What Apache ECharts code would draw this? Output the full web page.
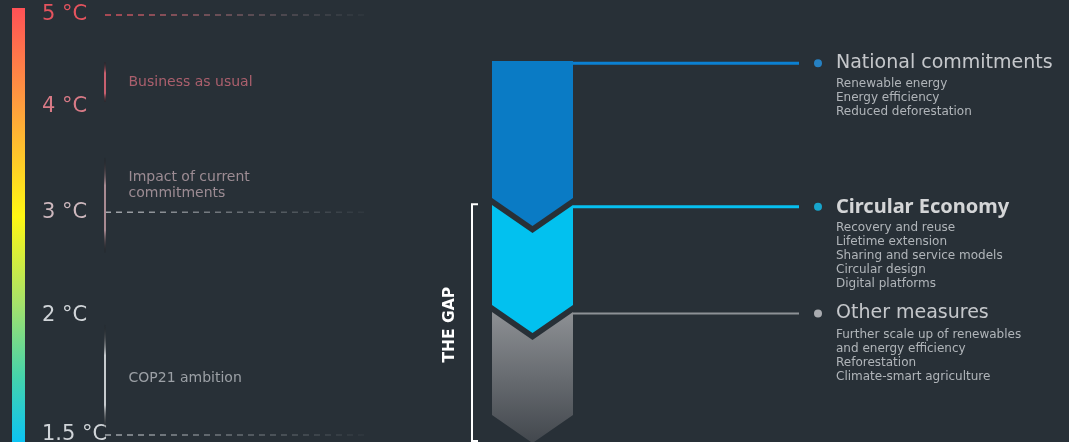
<!DOCTYPE html>
<html>
<head>
<meta charset="utf-8">
<title>The Gap</title>
<script src="https://cdn.jsdelivr.net/npm/echarts@6.0.0/dist/echarts.min.js"></script>
<style>
  html, body { margin: 0; padding: 0; background: #283037; }
  #chart { width: 1069px; height: 442px; }
</style>
</head>
<body>
<div id="chart"></div>
<script>
// vertical scale: 0 = top of the chart, 100 = bottom (the drawn temperature scale is not linear)
const tempLabels = ['5 °C', '4 °C', '3 °C', '2 °C', '1.5 °C'];
const tempLevels = [3.4, 24.2, 48.0, 71.3, 98.4];
const guideIndex = [0, 2, 4];   // temperatures with a dashed guide line
const scaleRange = [1.8, 100];

// ranges on the left
const bandNames = ['Business as usual', 'Impact of current\ncommitments', 'COP21 ambition'];
const bandFrom = [14.0, 35.7, 73.5];
const bandTo = [23.1, 57.2, 97.3];
const bandLabelLevel = [18.6, 41.9, 85.5];

// measures (chevrons)
const measureNames = ['National commitments', 'Circular Economy', 'Other measures'];
const measureTop = [13.8, 46.4, 70.6];
const measureBottom = [44.8, 69.0, 93.9];
const measureLevel = [14.3, 46.8, 70.9];
const measureItems = [
  ['Renewable energy', 'Energy efficiency', 'Reduced deforestation'],
  ['Recovery and reuse', 'Lifetime extension', 'Sharing and service models', 'Circular design', 'Digital platforms'],
  ['Further scale up of renewables', 'and energy efficiency', 'Reforestation', 'Climate-smart agriculture']
];

const gapRange = [46.2, 99.8];
const gapLabel = 'THE GAP';

const FONT = '"DejaVu Sans", "Noto Sans", sans-serif';
const FONT_BOLD = '"Noto Sans", "DejaVu Sans", sans-serif';
var myChart = echarts.init(document.getElementById('chart'));

// grids: 0 scale bar, 1 annotations, 2 chevrons, 3 connectors, 4 dots + text, 5 gap bracket
var gridLefts = [12, 105, 492, 573, 818, 472];
var gridWidths = [13, 260, 81, 226, 200, 6];

var grids = [], xAxes = [], yAxes = [];
gridLefts.forEach(function (l, i) {
  grids.push({ left: l, width: gridWidths[i], top: 0, bottom: 0, outerBoundsMode: 'none', containLabel: false });
  xAxes.push({ type: 'value', gridIndex: i, min: 0, max: 1, show: false });
  yAxes.push({ type: 'value', gridIndex: i, min: 0, max: 100, inverse: true, show: false });
});

// temperature labels on the scale bar axis
var labelColors = ['#e4535e', '#d87a86', '#cdb7bd', '#d0d4d8', '#d0d4d8'];
var tempRich = {};
labelColors.forEach(function (c, i) {
  tempRich['t' + i] = { color: c, fontSize: 21, fontFamily: FONT };
});
yAxes[0] = {
  type: 'value', gridIndex: 0, min: 0, max: 100, inverse: true, position: 'right',
  axisLine: { show: false }, axisTick: { show: false }, splitLine: { show: false },
  axisLabel: {
    show: true, margin: 17, align: 'left',
    customValues: tempLevels,
    formatter: function (v) {
      var k = 0;
      tempLevels.forEach(function (t, i) { if (Math.abs(t - v) < 0.01) k = i; });
      return '{t' + k + '|' + tempLabels[k] + '}';
    },
    rich: tempRich
  }
};

var guideColors = { 0: '#d4505c', 2: '#a6a9ae', 4: '#a2a7ac' };
var bandColors = ['#c8606f', '#a88a92', '#c6cace'];
var bandTextColors = ['#cc6b7a', '#b9a3aa', '#b9bdc2'];
var measureColors = ['#0a7bc5', '#02c1ef',
  new echarts.graphic.LinearGradient(0, 0, 0, 1, [
    { offset: 0, color: '#8d9094' }, { offset: 1, color: '#42474d' }])];
var lineColors = ['#0b80d2', '#06bff0', '#8d9196'];
var dotColors = ['#2596e6', '#13c3f2', '#c9cbce'];

var series = [];

// gradient scale bar
series.push({
  type: 'custom', xAxisIndex: 0, yAxisIndex: 0, silent: true,
  data: [[0, scaleRange[0], scaleRange[1]]],
  encode: { x: 0, y: [1, 2] },
  renderItem: function (params, api) {
    var a = api.coord([0, api.value(1)]);
    var b = api.coord([1, api.value(2)]);
    return {
      type: 'rect',
      shape: { x: a[0], y: a[1], width: b[0] - a[0], height: b[1] - a[1] },
      style: {
        fill: new echarts.graphic.LinearGradient(0, 0, 0, 1, [
          { offset: 0, color: '#ff5156' },
          { offset: 0.22, color: '#ff9c3e' },
          { offset: 0.48, color: '#fff713' },
          { offset: 0.68, color: '#a6e26a' },
          { offset: 0.85, color: '#45d3ab' },
          { offset: 1, color: '#0cc3f3' }
        ])
      }
    };
  }
});

// dashed guide lines
guideIndex.forEach(function (i) {
  series.push({
    type: 'line', xAxisIndex: 1, yAxisIndex: 1, silent: true, clip: false,
    showSymbol: false, symbol: 'none',
    data: [[0, tempLevels[i]], [1, tempLevels[i]]],
    lineStyle: {
      width: 1.5, type: [6, 5],
      color: new echarts.graphic.LinearGradient(0, 0, 1, 0, [
        { offset: 0, color: guideColors[i] },
        { offset: 1, color: 'rgba(160,165,170,0.05)' }])
    }
  });
});

// vertical range lines
bandFrom.forEach(function (f, i) {
  series.push({
    type: 'line', xAxisIndex: 1, yAxisIndex: 1, silent: true, clip: false,
    showSymbol: false, symbol: 'none',
    data: [[0, f], [0, bandTo[i]]],
    lineStyle: {
      width: 2,
      color: new echarts.graphic.LinearGradient(0, 0, 0, 1, [
        { offset: 0, color: 'rgba(0,0,0,0)' },
        { offset: 0.3, color: bandColors[i] },
        { offset: 0.75, color: bandColors[i] },
        { offset: 1, color: 'rgba(0,0,0,0)' }])
    }
  });
});

// range labels
series.push({
  type: 'scatter', xAxisIndex: 1, yAxisIndex: 1, silent: true,
  symbolSize: 1, itemStyle: { color: 'rgba(0,0,0,0)' },
  data: bandNames.map(function (n, i) {
    return { name: n, value: [0, bandLabelLevel[i]], label: { color: bandTextColors[i] } };
  }),
  label: {
    show: true, position: 'right', distance: 23, formatter: '{b}',
    fontSize: 14, lineHeight: 16, fontFamily: FONT
  }
});

// chevrons
series.push({
  type: 'custom', xAxisIndex: 2, yAxisIndex: 2, silent: true,
  data: measureTop.map(function (t, i) { return [0.5, t, measureBottom[i], i === 0 ? 0 : 1]; }),
  encode: { x: 0, y: [1, 2] },
  renderItem: function (params, api) {
    var notch = 28;
    var tl = api.coord([0, api.value(1)]);
    var tr = api.coord([1, api.value(1)]);
    var bl = api.coord([0, api.value(2)]);
    var br = api.coord([1, api.value(2)]);
    var midX = (tl[0] + tr[0]) / 2;
    var pts = [tl];
    if (api.value(3)) pts.push([midX, tl[1] + notch]);
    pts.push(tr, br, [midX, br[1] + notch], bl);
    return {
      type: 'polygon',
      shape: { points: pts },
      style: { fill: measureColors[params.dataIndex] }
    };
  }
});

// connectors
series.push({
  type: 'custom', xAxisIndex: 3, yAxisIndex: 3, silent: true,
  data: measureLevel.map(function (l) { return [0, l]; }),
  encode: { x: 0, y: 1 },
  renderItem: function (params, api) {
    var a = api.coord([0, api.value(1)]);
    var b = api.coord([1, api.value(1)]);
    return {
      type: 'line',
      shape: { x1: a[0], y1: a[1], x2: b[0], y2: b[1] },
      style: { stroke: lineColors[params.dataIndex], lineWidth: params.dataIndex === 2 ? 2 : 3 }
    };
  }
});

// dots and descriptions
series.push({
  type: 'scatter', xAxisIndex: 4, yAxisIndex: 4, silent: true, clip: false,
  symbolSize: 8,
  data: measureNames.map(function (n, i) {
    var txt = '{' + (i === 1 ? 'tb' : 't') + '|' + n + '}' +
      measureItems[i].map(function (s) { return '\n{s|' + s + '}'; }).join('');
    return { value: [0, measureLevel[i]], itemStyle: { color: dotColors[i] }, label: { formatter: txt } };
  }),
  label: {
    show: true, position: 'right', distance: 14, verticalAlign: 'top', offset: [0, -14],
    rich: {
      t: { fontSize: 19, color: '#eceef0', lineHeight: 28, fontFamily: FONT },
      tb: { fontSize: 20, fontWeight: 'bold', color: '#ffffff', lineHeight: 28, fontFamily: FONT_BOLD },
      s: { fontSize: 12, color: '#d2d6da', lineHeight: 14, fontFamily: FONT }
    }
  }
});

// gap bracket
series.push({
  type: 'custom', xAxisIndex: 5, yAxisIndex: 5, silent: true,
  data: [[0, gapRange[0], gapRange[1]]],
  encode: { x: 0, y: [1, 2] },
  renderItem: function (params, api) {
    var a = api.coord([0, api.value(1)]);
    var b = api.coord([0, api.value(2)]);
    return {
      type: 'group',
      children: [{
        type: 'polyline',
        shape: { points: [[a[0] + 6, a[1]], [a[0], a[1]], [b[0], b[1]], [b[0] + 6, b[1]]] },
        style: { stroke: '#ffffff', lineWidth: 2, fill: null }
      }, {
        type: 'text',
        x: a[0] - 22, y: (a[1] + b[1]) / 2 + 2, rotation: Math.PI / 2,
        style: {
          text: gapLabel, fill: '#ffffff', fontSize: 15.5, fontWeight: 'bold',
          fontFamily: FONT, align: 'center', verticalAlign: 'middle'
        }
      }]
    };
  }
});

var option = {
  backgroundColor: '#283037',
  animation: false,
  grid: grids,
  xAxis: xAxes,
  yAxis: yAxes,
  series: series
};
myChart.setOption(option);
</script>
</body>
</html>
